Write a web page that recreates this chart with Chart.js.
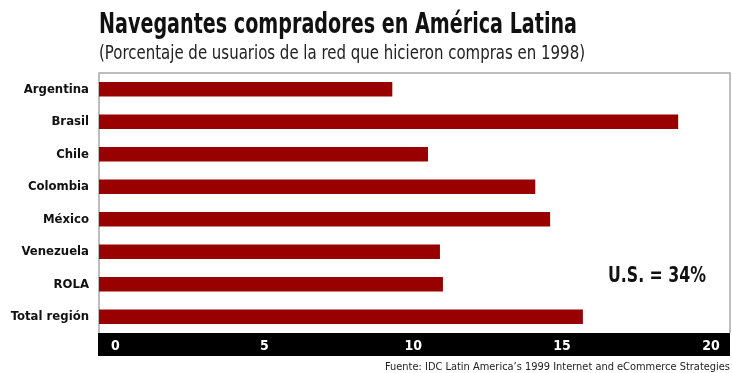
<!DOCTYPE html>
<html lang="es">
<head>
<meta charset="utf-8">
<title>Navegantes compradores en América Latina</title>
<script src="https://cdn.jsdelivr.net/npm/chart.js@4/dist/chart.umd.min.js"></script>
<style>
  html, body { margin: 0; padding: 0; background: #ffffff; }
  #wrap { width: 732px; height: 373px; }
</style>
</head>
<body>
<div id="wrap"><canvas id="chart" width="732" height="373"></canvas></div>
<script>
// Data
const categories = ['Argentina', 'Brasil', 'Chile', 'Colombia', 'México', 'Venezuela', 'ROLA', 'Total región'];
const shoppersPct = [9.3, 18.9, 10.5, 14.1, 14.6, 10.9, 11.0, 15.7];
const xTickValues = [0, 5, 10, 15, 20];

const titleText = 'Navegantes compradores en América Latina';
const subtitleText = '(Porcentaje de usuarios de la red que hicieron compras en 1998)';
const sourceText = 'Fuente: IDC Latin America\u2019s 1999 Internet and eCommerce Strategies';
const usNote = 'U.S. = 34%';

const FONT = '"Liberation Sans Narrow", "DejaVu Sans Condensed", "Liberation Sans", sans-serif';
const X_MIN = -0.55;
const X_MAX = 20.64;
const BAR_RED = '#990000';

// Draw text squeezed horizontally to a given width
function drawFitted(ctx, text, x, y, width, font, align) {
  ctx.save();
  ctx.font = font;
  ctx.textBaseline = 'alphabetic';
  ctx.textAlign = 'left';
  const w = ctx.measureText(text).width;
  const s = Math.min(1.25, width / w);
  const left = align === 'right' ? x - width : x;
  ctx.translate(left, y);
  ctx.scale(s, 1);
  ctx.fillText(text, 0, 0);
  ctx.restore();
}

const framePlugin = {
  id: 'frame',
  beforeDraw(chart) {
    const { ctx, chartArea: a } = chart;
    ctx.save();
    // black axis band
    ctx.fillStyle = '#000000';
    ctx.fillRect(a.left - 1, a.bottom, a.right - a.left + 1, 23);
    // plot frame
    ctx.strokeStyle = '#a8a8a8';
    ctx.lineWidth = 1.5;
    ctx.beginPath();
    ctx.moveTo(a.left, a.bottom);
    ctx.lineTo(a.left, a.top);
    ctx.lineTo(a.right, a.top);
    ctx.lineTo(a.right, a.bottom);
    ctx.stroke();
    ctx.restore();
  },
  afterDraw(chart) {
    const { ctx } = chart;
    ctx.save();
    ctx.fillStyle = '#111111';
    drawFitted(ctx, titleText, 99, 33, 478, 'bold 28px ' + FONT);
    ctx.fillStyle = '#222222';
    drawFitted(ctx, subtitleText, 99, 59, 486, '19px ' + FONT);
    drawFitted(ctx, sourceText, 730, 370, 345, '11px ' + FONT, 'right');
    ctx.fillStyle = '#111111';
    drawFitted(ctx, usNote, 608, 282, 98, 'bold 21px ' + FONT);
    ctx.restore();
  }
};

new Chart(document.getElementById('chart'), {
  type: 'bar',
  data: {
    labels: categories,
    datasets: [{
      data: shoppersPct,
      backgroundColor: BAR_RED,
      borderWidth: 0,
      base: X_MIN,
      categoryPercentage: 1,
      barPercentage: 0.45
    }]
  },
  options: {
    indexAxis: 'y',
    responsive: false,
    animation: false,
    devicePixelRatio: 1,
    layout: { padding: { top: 73, right: 2, left: 0, bottom: 0 } },
    plugins: {
      legend: { display: false },
      title: { display: false },
      tooltip: { enabled: false }
    },
    scales: {
      x: {
        type: 'linear',
        min: X_MIN,
        max: X_MAX,
        afterBuildTicks(scale) {
          scale.ticks = xTickValues.map(v => ({ value: v }));
        },
        afterFit(scale) { scale.height = 40; },
        grid: { display: false, drawTicks: false },
        border: { display: false },
        ticks: {
          color: '#ffffff',
          padding: 5,
          maxRotation: 0,
          font: { family: FONT, size: 14, weight: 'bold' }
        }
      },
      y: {
        type: 'category',
        afterFit(scale) { scale.width = 99; },
        grid: { display: false, drawTicks: false },
        border: { display: false },
        ticks: {
          color: '#111111',
          padding: 10,
          font: { family: FONT, size: 13, weight: 'bold' }
        }
      }
    }
  },
  plugins: [framePlugin]
});
</script>
</body>
</html>
